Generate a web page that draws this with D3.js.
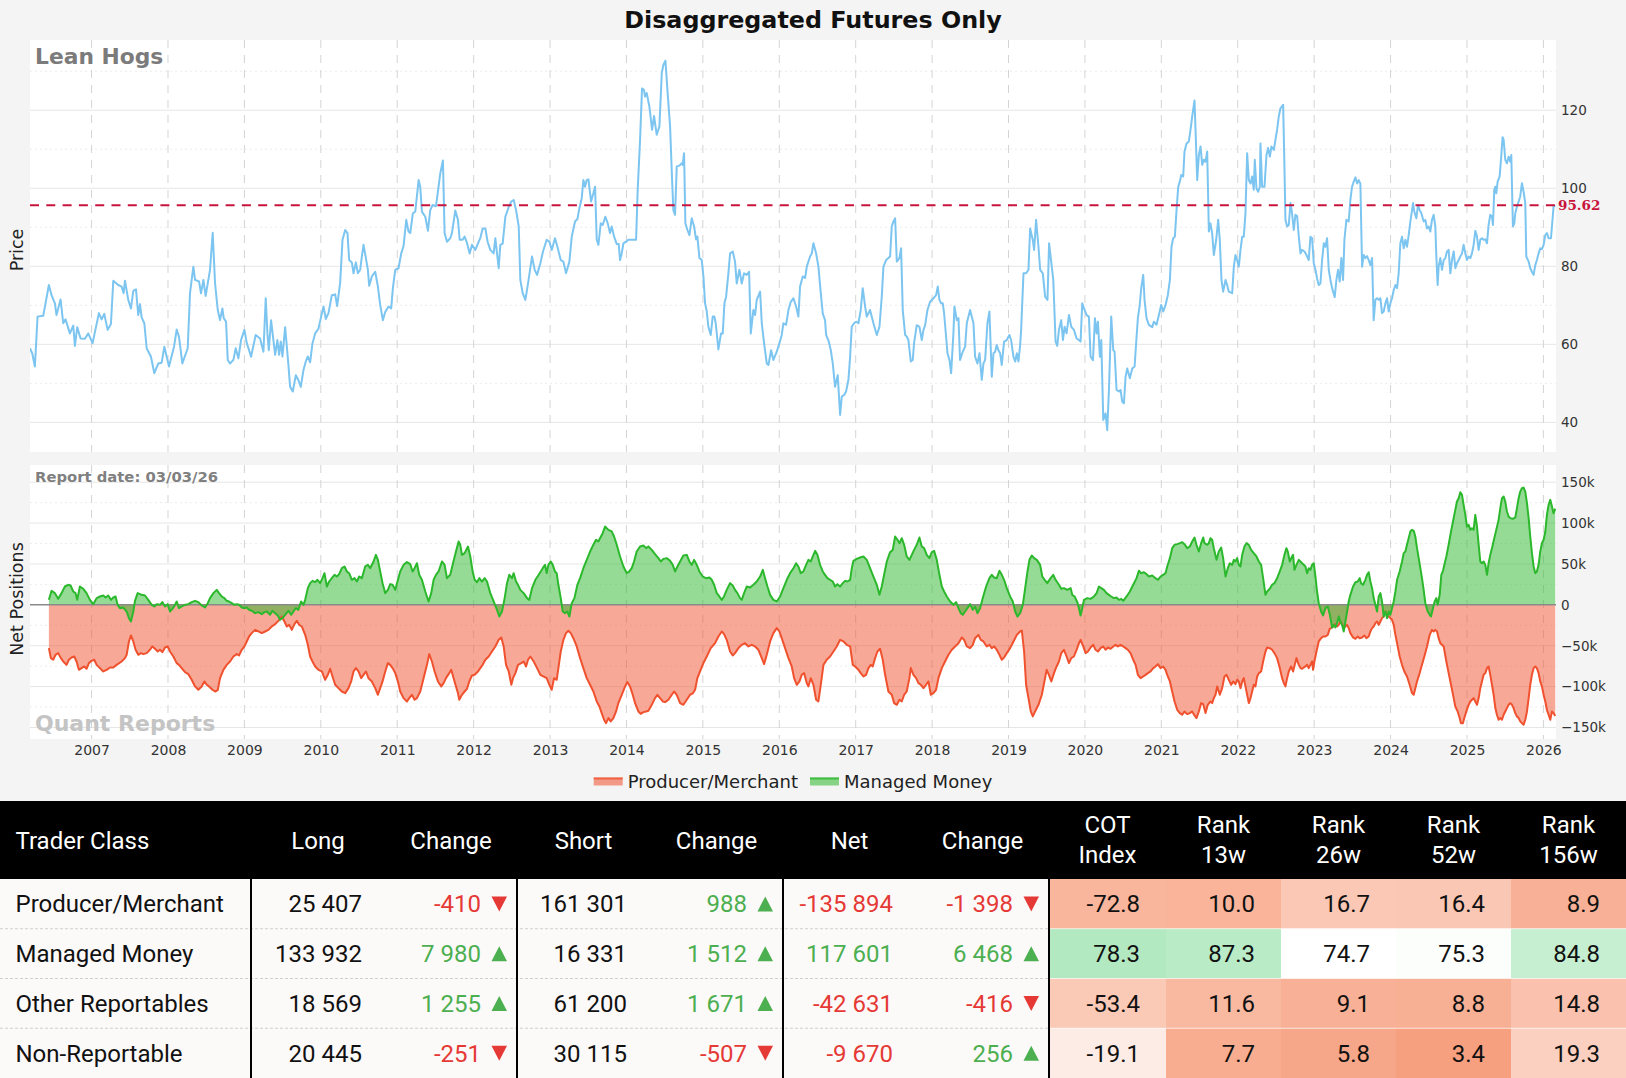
<!DOCTYPE html>
<html>
<head>
<meta charset="utf-8">
<script src="https://cdn.jsdelivr.net/npm/d3@7"></script>
<style>
html, body { margin: 0; padding: 0; background: #f4f4f4; }
svg { display: block; }
</style>
</head>
<body>
<svg id="chart" width="1626" height="1078"></svg>
<script>
// ---- data ----
var chartTitle = "Disaggregated Futures Only";
var marketName = "Lean Hogs";
var reportDate = "03/03/26";
var lastPrice = 95.62;

var yearTicks = [2007,2008,2009,2010,2011,2012,2013,2014,2015,2016,2017,2018,2019,2020,2021,2022,2023,2024,2025,2026];
var priceTicks = [40, 60, 80, 100, 120];
var priceMinor = [50, 70, 90, 110, 130];
var netTicks = [-150, -100, -50, 0, 50, 100, 150];   // thousands of contracts
var netMinor = [-125, -75, -25, 25, 75, 125];
var seriesNames = ["Producer/Merchant", "Managed Money"];

// [decimal year, price]
var price = [
[2006.192,59.0],[2006.223,57.7],[2006.258,54.3],[2006.293,67.1],[2006.367,67.3],[2006.441,75.2],[2006.476,72.6],[2006.520,70.5],
[2006.541,67.5],[2006.594,71.5],[2006.629,65.4],[2006.659,66.4],[2006.716,62.8],[2006.760,64.8],[2006.782,59.6],[2006.812,64.4],
[2006.856,61.5],[2006.913,61.4],[2006.956,62.8],[2007.013,60.3],[2007.096,68.0],[2007.131,66.4],[2007.166,67.8],[2007.210,63.7],
[2007.253,65.2],[2007.284,76.3],[2007.349,75.2],[2007.393,74.8],[2007.419,73.1],[2007.437,76.3],[2007.480,71.4],[2007.515,69.2],
[2007.546,73.7],[2007.581,74.1],[2007.611,67.5],[2007.633,70.3],[2007.655,66.9],[2007.690,65.4],[2007.721,59.0],[2007.777,56.8],
[2007.821,52.6],[2007.873,55.1],[2007.917,55.3],[2007.952,59.4],[2007.983,56.8],[2008.013,54.3],[2008.079,59.4],[2008.114,63.8],
[2008.144,61.9],[2008.188,55.1],[2008.258,59.0],[2008.288,73.1],[2008.332,79.9],[2008.354,76.5],[2008.406,76.1],[2008.432,73.1],
[2008.463,76.5],[2008.493,72.4],[2008.550,79.1],[2008.585,88.6],[2008.616,75.6],[2008.651,68.8],[2008.681,66.2],[2008.712,69.2],
[2008.729,66.7],[2008.760,65.8],[2008.782,56.0],[2008.812,55.1],[2008.856,56.0],[2008.886,59.0],[2008.921,56.4],[2008.956,61.1],
[2009.000,63.7],[2009.031,60.3],[2009.061,58.5],[2009.087,56.8],[2009.148,62.4],[2009.205,61.5],[2009.249,58.1],[2009.279,71.8],
[2009.301,62.8],[2009.319,58.5],[2009.349,66.2],[2009.402,57.3],[2009.432,61.1],[2009.454,57.3],[2009.476,60.7],[2009.498,56.9],
[2009.533,64.4],[2009.576,54.7],[2009.598,49.1],[2009.633,47.9],[2009.673,52.1],[2009.707,50.8],[2009.738,49.1],[2009.773,53.4],
[2009.803,55.6],[2009.830,56.9],[2009.860,55.4],[2009.891,60.3],[2009.926,62.8],[2009.969,64.0],[2010.004,67.1],[2010.035,69.7],
[2010.066,66.5],[2010.100,68.0],[2010.144,72.6],[2010.188,72.8],[2010.214,69.8],[2010.253,75.8],[2010.284,86.8],[2010.319,89.3],
[2010.349,88.5],[2010.371,81.6],[2010.406,81.0],[2010.428,78.2],[2010.459,81.0],[2010.485,78.2],[2010.515,79.1],[2010.537,82.5],
[2010.559,85.5],[2010.590,82.1],[2010.616,79.1],[2010.633,75.0],[2010.668,77.4],[2010.712,78.6],[2010.747,74.8],[2010.777,70.1],
[2010.812,66.2],[2010.843,68.3],[2010.886,69.7],[2010.921,69.2],[2010.943,74.4],[2010.974,79.1],[2011.017,79.5],[2011.052,83.3],
[2011.083,85.2],[2011.118,91.9],[2011.148,88.9],[2011.170,88.5],[2011.205,93.6],[2011.236,94.0],[2011.280,102.1],[2011.301,100.4],
[2011.323,94.0],[2011.367,92.7],[2011.402,89.1],[2011.432,94.4],[2011.463,95.7],[2011.507,95.4],[2011.541,100.4],[2011.563,103.8],
[2011.598,107.1],[2011.620,88.5],[2011.651,86.3],[2011.694,87.2],[2011.716,88.5],[2011.760,94.3],[2011.795,91.9],[2011.817,86.8],
[2011.856,86.8],[2011.882,87.6],[2011.913,86.0],[2011.948,83.3],[2011.978,85.5],[2012.022,84.2],[2012.057,85.9],[2012.087,87.2],
[2012.118,89.7],[2012.153,89.7],[2012.183,86.3],[2012.218,84.2],[2012.262,83.3],[2012.284,87.2],[2012.306,83.3],[2012.328,79.5],
[2012.349,85.5],[2012.380,85.8],[2012.415,92.7],[2012.459,95.2],[2012.493,96.6],[2012.524,97.0],[2012.555,94.4],[2012.590,90.2],
[2012.611,76.5],[2012.642,73.1],[2012.677,71.4],[2012.712,75.6],[2012.764,82.5],[2012.799,79.1],[2012.830,77.8],[2012.873,80.8],
[2012.908,83.8],[2012.956,86.8],[2012.991,86.3],[2013.022,84.2],[2013.065,87.2],[2013.096,85.0],[2013.140,81.6],[2013.175,81.2],
[2013.209,78.2],[2013.253,81.2],[2013.284,87.6],[2013.327,91.5],[2013.358,92.1],[2013.384,94.9],[2013.414,97.4],[2013.436,102.1],
[2013.458,100.4],[2013.480,102.1],[2013.502,102.3],[2013.524,98.7],[2013.537,96.6],[2013.567,98.7],[2013.589,100.4],[2013.611,86.8],
[2013.633,85.5],[2013.663,91.0],[2013.689,90.6],[2013.724,92.7],[2013.755,91.0],[2013.785,88.5],[2013.807,90.2],[2013.838,87.6],
[2013.873,85.7],[2013.899,85.7],[2013.916,81.6],[2013.938,83.3],[2013.960,85.9],[2013.995,86.3],[2014.025,86.8],[2014.091,86.8],
[2014.126,86.8],[2014.147,99.6],[2014.178,112.4],[2014.204,125.6],[2014.230,125.2],[2014.243,123.5],[2014.265,124.4],[2014.300,120.9],
[2014.335,115.0],[2014.361,118.5],[2014.396,113.7],[2014.431,115.8],[2014.462,129.5],[2014.483,131.6],[2014.510,132.7],[2014.536,125.2],
[2014.571,115.8],[2014.597,102.1],[2014.614,94.4],[2014.636,93.2],[2014.658,105.6],[2014.693,105.8],[2014.723,106.4],[2014.736,106.0],
[2014.754,109.0],[2014.771,91.0],[2014.798,89.3],[2014.824,88.0],[2014.854,92.3],[2014.885,90.2],[2014.911,86.9],[2014.928,87.6],
[2014.955,82.1],[2014.985,81.6],[2015.007,77.4],[2015.029,70.5],[2015.051,68.4],[2015.072,64.5],[2015.103,62.4],[2015.129,67.1],
[2015.151,67.1],[2015.168,65.4],[2015.203,58.7],[2015.238,62.8],[2015.260,62.8],[2015.282,70.5],[2015.304,72.2],[2015.334,78.2],
[2015.356,83.3],[2015.391,83.8],[2015.421,81.2],[2015.443,75.6],[2015.478,79.1],[2015.509,75.6],[2015.539,78.2],[2015.574,77.8],
[2015.605,78.6],[2015.627,62.8],[2015.661,68.8],[2015.683,67.5],[2015.705,71.4],[2015.749,73.5],[2015.771,65.4],[2015.801,60.3],
[2015.836,55.1],[2015.858,54.7],[2015.893,58.5],[2015.923,56.0],[2015.967,58.1],[2016.002,60.3],[2016.032,62.4],[2016.054,65.4],
[2016.089,65.0],[2016.120,68.8],[2016.150,70.9],[2016.185,71.8],[2016.220,69.7],[2016.250,67.1],[2016.272,74.8],[2016.307,77.4],
[2016.338,77.0],[2016.360,79.9],[2016.403,82.5],[2016.425,83.3],[2016.447,85.9],[2016.482,83.3],[2016.512,79.9],[2016.543,73.1],
[2016.569,67.9],[2016.599,66.2],[2016.613,62.4],[2016.648,60.7],[2016.674,58.5],[2016.700,55.1],[2016.730,49.1],[2016.765,52.1],
[2016.796,41.9],[2016.818,46.6],[2016.848,47.0],[2016.874,47.9],[2016.905,50.9],[2016.927,56.8],[2016.948,64.5],[2016.979,65.4],
[2017.005,65.8],[2017.036,65.4],[2017.066,68.8],[2017.092,74.4],[2017.123,69.7],[2017.145,67.1],[2017.188,68.8],[2017.232,65.4],
[2017.276,62.4],[2017.311,64.5],[2017.341,72.2],[2017.363,79.9],[2017.398,81.6],[2017.428,82.1],[2017.450,82.5],[2017.472,90.2],
[2017.494,91.5],[2017.516,92.3],[2017.538,81.2],[2017.572,82.1],[2017.594,84.6],[2017.616,68.8],[2017.647,62.4],[2017.668,62.0],
[2017.690,61.1],[2017.721,55.6],[2017.747,56.0],[2017.764,60.3],[2017.799,64.9],[2017.834,64.5],[2017.865,61.1],[2017.887,63.7],
[2017.909,64.9],[2017.939,68.8],[2017.974,70.9],[2018.017,71.8],[2018.052,72.6],[2018.074,74.8],[2018.096,71.4],[2018.118,70.5],
[2018.140,70.5],[2018.157,67.9],[2018.183,62.0],[2018.201,57.7],[2018.227,56.0],[2018.249,52.6],[2018.279,62.8],[2018.292,69.7],
[2018.323,66.2],[2018.345,66.7],[2018.366,56.0],[2018.401,58.1],[2018.432,59.4],[2018.454,65.4],[2018.497,68.8],[2018.541,65.4],
[2018.563,56.8],[2018.593,55.1],[2018.620,57.7],[2018.650,50.9],[2018.672,55.1],[2018.694,56.0],[2018.724,65.4],[2018.750,68.4],
[2018.781,51.7],[2018.803,57.7],[2018.825,58.1],[2018.846,59.8],[2018.868,58.5],[2018.890,57.7],[2018.912,54.7],[2018.942,60.7],
[2018.977,61.1],[2019.012,62.4],[2019.034,61.1],[2019.065,56.8],[2019.087,55.6],[2019.109,57.7],[2019.130,55.6],[2019.152,59.8],
[2019.165,63.7],[2019.196,78.2],[2019.230,78.2],[2019.261,79.1],[2019.283,89.7],[2019.318,86.7],[2019.335,84.2],[2019.361,91.9],
[2019.392,85.0],[2019.414,79.1],[2019.449,78.2],[2019.479,72.2],[2019.510,71.4],[2019.531,85.9],[2019.586,76.5],[2019.616,60.7],
[2019.638,59.6],[2019.660,63.7],[2019.690,66.2],[2019.712,61.1],[2019.734,64.5],[2019.760,62.8],[2019.791,67.5],[2019.821,64.5],
[2019.856,63.7],[2019.891,61.5],[2019.922,61.1],[2019.943,60.7],[2019.965,70.5],[2019.996,68.8],[2020.022,67.5],[2020.052,67.1],
[2020.074,56.8],[2020.105,55.9],[2020.131,66.7],[2020.153,62.8],[2020.170,65.8],[2020.196,56.8],[2020.214,61.1],[2020.240,40.6],
[2020.270,42.3],[2020.292,38.0],[2020.314,48.3],[2020.344,67.1],[2020.371,58.5],[2020.388,58.1],[2020.414,48.3],[2020.445,47.9],
[2020.466,48.3],[2020.488,45.3],[2020.510,44.9],[2020.532,51.7],[2020.554,53.8],[2020.588,51.3],[2020.619,53.8],[2020.650,54.3],
[2020.676,62.0],[2020.693,66.7],[2020.715,69.7],[2020.737,74.4],[2020.763,77.8],[2020.780,71.4],[2020.806,66.7],[2020.837,65.0],
[2020.881,64.4],[2020.902,65.8],[2020.937,65.0],[2020.968,67.5],[2020.998,70.1],[2021.024,68.4],[2021.055,70.1],[2021.085,72.6],
[2021.112,76.5],[2021.133,85.0],[2021.155,87.2],[2021.177,87.6],[2021.199,94.4],[2021.221,100.4],[2021.242,101.7],[2021.260,103.4],
[2021.286,103.0],[2021.303,109.4],[2021.330,111.5],[2021.360,112.0],[2021.382,115.0],[2021.404,118.4],[2021.434,122.5],[2021.452,112.4],
[2021.469,102.1],[2021.491,108.5],[2021.513,110.7],[2021.535,106.0],[2021.556,107.3],[2021.578,106.8],[2021.600,109.4],[2021.622,88.9],
[2021.643,91.0],[2021.665,88.5],[2021.687,82.9],[2021.718,86.8],[2021.744,91.9],[2021.765,86.8],[2021.787,76.5],[2021.809,73.5],
[2021.840,76.5],[2021.861,75.2],[2021.883,73.5],[2021.927,73.1],[2021.949,79.9],[2021.970,82.9],[2021.992,81.6],[2022.014,79.9],
[2022.036,84.2],[2022.058,87.6],[2022.079,87.6],[2022.101,93.6],[2022.123,109.0],[2022.145,102.1],[2022.167,101.2],[2022.188,103.0],
[2022.210,99.6],[2022.223,107.3],[2022.245,100.0],[2022.267,99.1],[2022.289,100.4],[2022.297,111.5],[2022.319,100.4],[2022.350,100.4],
[2022.376,108.5],[2022.398,110.3],[2022.420,108.1],[2022.441,110.7],[2022.472,109.8],[2022.493,112.4],[2022.515,115.0],[2022.537,118.4],
[2022.559,120.5],[2022.594,121.4],[2022.611,105.6],[2022.624,91.9],[2022.646,90.2],[2022.668,90.6],[2022.690,96.2],[2022.711,93.6],
[2022.733,89.3],[2022.755,93.2],[2022.777,92.9],[2022.799,87.6],[2022.821,83.3],[2022.842,84.2],[2022.873,83.8],[2022.899,82.9],
[2022.929,81.6],[2022.951,87.6],[2022.973,87.2],[2022.995,80.8],[2023.017,79.1],[2023.038,76.9],[2023.060,75.2],[2023.082,75.6],
[2023.104,81.6],[2023.126,85.9],[2023.147,85.0],[2023.169,87.2],[2023.191,79.1],[2023.213,76.5],[2023.235,74.4],[2023.269,72.1],
[2023.291,76.5],[2023.313,79.1],[2023.335,76.1],[2023.356,82.1],[2023.378,76.5],[2023.396,86.8],[2023.422,91.9],[2023.452,91.5],
[2023.474,97.0],[2023.496,100.4],[2023.518,101.7],[2023.540,102.8],[2023.562,101.2],[2023.583,102.1],[2023.605,101.2],[2023.627,79.9],
[2023.649,82.9],[2023.670,82.1],[2023.692,82.6],[2023.714,81.6],[2023.736,80.3],[2023.758,82.1],[2023.779,66.2],[2023.801,71.4],
[2023.823,71.8],[2023.845,71.4],[2023.867,71.8],[2023.888,68.0],[2023.910,68.4],[2023.932,70.5],[2023.954,71.8],[2023.976,68.4],
[2023.997,70.5],[2024.019,71.8],[2024.041,73.9],[2024.063,75.2],[2024.085,74.4],[2024.106,78.2],[2024.128,85.9],[2024.150,87.6],
[2024.172,84.6],[2024.194,86.8],[2024.215,85.0],[2024.237,88.0],[2024.259,91.5],[2024.281,94.4],[2024.294,96.2],[2024.311,94.0],
[2024.337,92.3],[2024.359,95.7],[2024.381,94.4],[2024.403,93.6],[2024.433,91.5],[2024.455,91.9],[2024.477,89.7],[2024.499,90.2],
[2024.520,88.9],[2024.542,91.9],[2024.564,93.2],[2024.586,90.2],[2024.599,82.5],[2024.616,75.2],[2024.629,79.9],[2024.651,82.1],
[2024.673,79.1],[2024.695,81.6],[2024.717,82.1],[2024.738,83.8],[2024.760,84.2],[2024.782,78.2],[2024.804,81.6],[2024.826,83.8],
[2024.848,79.5],[2024.869,80.8],[2024.891,81.6],[2024.913,82.5],[2024.935,83.3],[2024.956,85.5],[2024.978,83.3],[2025.000,81.6],
[2025.022,82.5],[2025.044,82.1],[2025.065,83.3],[2025.087,85.5],[2025.109,89.1],[2025.131,87.6],[2025.153,84.2],[2025.174,86.8],
[2025.196,87.2],[2025.218,86.8],[2025.240,86.9],[2025.262,85.9],[2025.283,90.6],[2025.305,93.2],[2025.327,92.7],[2025.340,90.6],
[2025.357,99.6],[2025.370,100.4],[2025.384,98.7],[2025.401,101.7],[2025.427,103.0],[2025.445,107.3],[2025.466,113.1],[2025.480,112.4],
[2025.501,107.3],[2025.523,106.4],[2025.545,108.1],[2025.567,106.8],[2025.580,108.5],[2025.601,90.2],[2025.619,91.0],[2025.632,93.6],
[2025.654,95.3],[2025.676,96.6],[2025.697,97.9],[2025.719,101.3],[2025.741,99.1],[2025.763,96.2],[2025.776,82.5],[2025.807,81.2],
[2025.828,79.5],[2025.850,78.6],[2025.872,77.8],[2025.894,80.3],[2025.915,81.6],[2025.937,83.3],[2025.959,84.6],[2025.981,84.4],
[2026.003,85.5],[2026.025,88.0],[2026.046,88.5],[2026.068,87.2],[2026.099,87.2],[2026.112,90.2],[2026.133,95.3],[2026.155,95.62]
];

// [decimal year, net position in thousands] - Producer/Merchant
var producerNet = [
[2006.441,-53.0],[2006.467,-65.2],[2006.498,-67.2],[2006.528,-61.1],[2006.563,-59.1],[2006.598,-65.2],[2006.629,-69.3],[2006.672,-73.4],
[2006.703,-67.2],[2006.738,-64.4],[2006.773,-63.2],[2006.803,-69.3],[2006.834,-79.5],[2006.869,-77.4],[2006.904,-75.4],[2006.934,-78.2],
[2006.965,-71.3],[2007.000,-68.5],[2007.035,-67.2],[2007.066,-73.4],[2007.109,-77.4],[2007.153,-81.5],[2007.197,-79.5],[2007.240,-76.6],
[2007.284,-76.6],[2007.328,-73.4],[2007.393,-69.3],[2007.437,-65.2],[2007.459,-61.1],[2007.489,-44.8],[2007.515,-37.5],[2007.546,-44.8],
[2007.576,-55.0],[2007.611,-61.1],[2007.646,-59.1],[2007.677,-60.3],[2007.721,-59.1],[2007.764,-55.0],[2007.795,-50.9],[2007.830,-53.8],
[2007.865,-57.1],[2007.895,-55.0],[2007.926,-57.9],[2007.961,-52.2],[2007.996,-50.9],[2008.026,-57.1],[2008.070,-63.2],[2008.114,-71.3],
[2008.144,-73.4],[2008.179,-77.4],[2008.223,-82.3],[2008.266,-84.8],[2008.310,-91.7],[2008.354,-99.8],[2008.397,-103.9],[2008.441,-99.8],
[2008.476,-93.7],[2008.507,-97.8],[2008.537,-99.8],[2008.581,-103.9],[2008.616,-106.0],[2008.651,-104.3],[2008.681,-89.7],[2008.725,-79.5],
[2008.769,-73.4],[2008.812,-69.3],[2008.856,-63.2],[2008.900,-60.3],[2008.930,-61.9],[2008.965,-55.0],[2009.000,-50.9],[2009.031,-44.8],
[2009.061,-38.7],[2009.096,-34.6],[2009.140,-30.6],[2009.183,-32.6],[2009.227,-34.6],[2009.271,-32.6],[2009.314,-30.6],[2009.358,-26.5],
[2009.402,-23.6],[2009.445,-19.6],[2009.489,-14.3],[2009.524,-20.4],[2009.555,-26.5],[2009.585,-24.5],[2009.620,-30.6],[2009.655,-23.6],
[2009.686,-19.6],[2009.716,-24.5],[2009.751,-26.5],[2009.795,-36.7],[2009.830,-48.9],[2009.860,-63.2],[2009.891,-69.3],[2009.926,-75.4],
[2009.969,-79.5],[2010.013,-81.5],[2010.057,-91.7],[2010.092,-85.6],[2010.122,-78.2],[2010.153,-87.6],[2010.188,-97.8],[2010.231,-101.9],
[2010.275,-106.0],[2010.319,-108.0],[2010.362,-101.9],[2010.397,-93.7],[2010.428,-81.5],[2010.459,-77.4],[2010.493,-81.5],[2010.528,-89.7],
[2010.559,-85.6],[2010.590,-81.5],[2010.624,-89.7],[2010.668,-93.7],[2010.712,-101.9],[2010.747,-110.0],[2010.777,-101.9],[2010.808,-93.7],
[2010.843,-81.5],[2010.878,-71.3],[2010.908,-73.4],[2010.939,-77.4],[2010.974,-83.5],[2011.009,-93.7],[2011.039,-106.0],[2011.083,-114.1],
[2011.127,-118.2],[2011.157,-114.1],[2011.192,-110.0],[2011.227,-116.1],[2011.258,-114.1],[2011.301,-106.0],[2011.345,-89.7],[2011.389,-73.4],
[2011.419,-60.3],[2011.454,-69.3],[2011.489,-81.5],[2011.533,-93.7],[2011.576,-99.8],[2011.607,-95.8],[2011.638,-89.7],[2011.672,-84.8],
[2011.707,-79.5],[2011.738,-89.7],[2011.769,-99.8],[2011.795,-108.0],[2011.812,-116.1],[2011.847,-110.0],[2011.882,-106.0],[2011.913,-102.7],
[2011.943,-93.7],[2011.978,-86.4],[2012.013,-85.6],[2012.057,-81.5],[2012.087,-77.4],[2012.118,-73.4],[2012.153,-67.2],[2012.197,-63.2],
[2012.240,-57.1],[2012.284,-50.9],[2012.328,-42.8],[2012.362,-39.9],[2012.393,-50.9],[2012.424,-73.4],[2012.459,-81.5],[2012.493,-97.8],
[2012.515,-89.7],[2012.546,-83.5],[2012.581,-73.4],[2012.624,-71.3],[2012.655,-69.3],[2012.686,-75.4],[2012.712,-67.2],[2012.742,-63.2],
[2012.786,-69.3],[2012.830,-77.4],[2012.873,-85.6],[2012.956,-89.7],[2012.991,-97.8],[2013.022,-103.9],[2013.052,-89.7],[2013.087,-91.7],
[2013.109,-77.4],[2013.140,-57.1],[2013.175,-42.8],[2013.209,-34.6],[2013.240,-31.8],[2013.271,-34.6],[2013.305,-40.8],[2013.349,-50.9],
[2013.393,-65.2],[2013.436,-77.4],[2013.480,-89.7],[2013.524,-97.8],[2013.567,-106.0],[2013.611,-118.2],[2013.646,-124.3],[2013.676,-132.4],
[2013.707,-140.6],[2013.733,-144.7],[2013.764,-138.5],[2013.794,-142.6],[2013.829,-138.5],[2013.864,-130.4],[2013.894,-120.2],[2013.938,-110.0],
[2013.982,-99.8],[2014.012,-94.5],[2014.047,-99.8],[2014.082,-110.0],[2014.113,-120.2],[2014.156,-130.4],[2014.187,-133.3],[2014.222,-131.2],
[2014.257,-130.4],[2014.287,-129.6],[2014.331,-122.3],[2014.374,-114.1],[2014.405,-110.0],[2014.440,-114.1],[2014.475,-118.2],[2014.505,-119.0],
[2014.549,-116.1],[2014.593,-110.0],[2014.623,-106.0],[2014.658,-110.0],[2014.702,-120.2],[2014.745,-122.3],[2014.789,-116.1],[2014.832,-110.0],
[2014.867,-108.4],[2014.898,-103.9],[2014.928,-89.7],[2014.963,-81.5],[2015.007,-71.3],[2015.051,-63.2],[2015.103,-53.0],[2015.160,-46.9],
[2015.203,-38.7],[2015.247,-32.6],[2015.277,-35.9],[2015.312,-42.8],[2015.356,-57.1],[2015.391,-61.9],[2015.421,-59.1],[2015.465,-53.0],
[2015.509,-48.9],[2015.552,-46.9],[2015.596,-50.9],[2015.640,-48.9],[2015.683,-50.9],[2015.727,-55.0],[2015.771,-65.2],[2015.801,-72.5],
[2015.836,-61.1],[2015.880,-44.8],[2015.923,-34.6],[2015.967,-28.5],[2016.002,-32.6],[2016.032,-40.8],[2016.076,-53.0],[2016.120,-65.2],
[2016.163,-75.4],[2016.194,-89.7],[2016.229,-97.8],[2016.264,-93.7],[2016.294,-85.6],[2016.325,-83.5],[2016.360,-95.8],[2016.381,-99.8],
[2016.412,-89.7],[2016.447,-97.8],[2016.482,-116.1],[2016.512,-118.2],[2016.543,-97.8],[2016.578,-73.4],[2016.621,-67.2],[2016.665,-63.2],
[2016.709,-57.1],[2016.752,-50.9],[2016.796,-42.8],[2016.840,-44.8],[2016.883,-48.9],[2016.927,-50.9],[2016.962,-73.4],[2016.992,-75.4],
[2017.036,-79.5],[2017.066,-83.5],[2017.101,-87.6],[2017.136,-85.6],[2017.167,-77.4],[2017.197,-73.4],[2017.223,-75.4],[2017.254,-65.2],
[2017.284,-57.1],[2017.319,-53.8],[2017.354,-67.2],[2017.385,-85.6],[2017.428,-106.0],[2017.472,-110.0],[2017.503,-120.2],[2017.538,-122.3],
[2017.573,-116.1],[2017.603,-118.2],[2017.634,-110.0],[2017.668,-106.0],[2017.703,-89.7],[2017.721,-77.4],[2017.756,-85.6],[2017.791,-89.7],
[2017.821,-95.8],[2017.852,-97.8],[2017.887,-101.9],[2017.921,-97.8],[2017.952,-93.7],[2017.983,-110.0],[2018.017,-108.0],[2018.052,-103.9],
[2018.083,-89.7],[2018.127,-77.4],[2018.170,-69.3],[2018.214,-61.1],[2018.258,-55.0],[2018.301,-50.9],[2018.345,-46.9],[2018.388,-39.9],
[2018.419,-42.8],[2018.454,-50.9],[2018.497,-53.0],[2018.532,-48.9],[2018.563,-40.8],[2018.606,-36.7],[2018.637,-42.8],[2018.672,-44.8],
[2018.715,-50.9],[2018.751,-48.9],[2018.781,-53.0],[2018.812,-50.9],[2018.846,-55.0],[2018.881,-61.1],[2018.912,-67.2],[2018.942,-64.4],
[2018.977,-59.1],[2019.021,-53.0],[2019.065,-44.8],[2019.109,-36.7],[2019.152,-32.6],[2019.174,-31.4],[2019.204,-57.1],[2019.230,-97.8],
[2019.261,-114.1],[2019.291,-130.4],[2019.318,-136.5],[2019.348,-130.4],[2019.392,-122.3],[2019.436,-110.0],[2019.499,-79.5],[2019.529,-85.6],
[2019.560,-93.7],[2019.595,-83.5],[2019.629,-75.4],[2019.660,-69.3],[2019.690,-59.1],[2019.725,-55.0],[2019.760,-63.2],[2019.791,-71.3],
[2019.821,-65.2],[2019.856,-63.2],[2019.891,-55.0],[2019.922,-46.9],[2019.943,-42.8],[2019.978,-50.9],[2020.009,-59.1],[2020.039,-57.1],
[2020.074,-52.2],[2020.109,-48.9],[2020.139,-55.0],[2020.170,-57.1],[2020.205,-53.0],[2020.240,-50.9],[2020.270,-55.0],[2020.301,-52.2],
[2020.336,-53.8],[2020.371,-50.9],[2020.401,-48.9],[2020.432,-50.9],[2020.466,-48.9],[2020.501,-50.9],[2020.532,-53.0],[2020.562,-55.0],
[2020.597,-59.1],[2020.632,-67.2],[2020.663,-73.4],[2020.693,-85.6],[2020.728,-89.7],[2020.763,-87.6],[2020.793,-85.6],[2020.824,-83.5],
[2020.859,-81.5],[2020.894,-77.4],[2020.924,-75.4],[2020.955,-72.5],[2020.990,-77.4],[2021.024,-75.4],[2021.055,-79.5],[2021.077,-85.6],
[2021.112,-93.7],[2021.142,-106.0],[2021.173,-118.2],[2021.208,-128.4],[2021.242,-132.4],[2021.273,-134.5],[2021.303,-130.4],[2021.338,-133.7],
[2021.373,-132.4],[2021.404,-130.4],[2021.434,-135.3],[2021.460,-138.5],[2021.491,-130.4],[2021.521,-120.2],[2021.548,-121.4],[2021.578,-132.4],
[2021.608,-122.3],[2021.643,-118.2],[2021.665,-120.2],[2021.687,-114.1],[2021.709,-110.0],[2021.731,-99.8],[2021.765,-110.0],[2021.796,-101.9],
[2021.826,-87.6],[2021.853,-85.6],[2021.883,-91.7],[2021.914,-97.8],[2021.940,-93.7],[2021.970,-97.0],[2021.992,-91.7],[2022.014,-93.7],
[2022.036,-101.9],[2022.058,-93.7],[2022.079,-89.7],[2022.101,-99.8],[2022.123,-110.0],[2022.145,-120.2],[2022.167,-114.1],[2022.188,-106.0],
[2022.210,-97.8],[2022.232,-99.8],[2022.254,-87.6],[2022.276,-83.5],[2022.306,-81.5],[2022.332,-69.3],[2022.363,-57.1],[2022.385,-52.2],
[2022.419,-53.0],[2022.450,-55.0],[2022.480,-59.1],[2022.515,-65.2],[2022.550,-77.4],[2022.581,-89.7],[2022.603,-95.8],[2022.624,-99.8],
[2022.646,-89.7],[2022.668,-81.5],[2022.698,-75.4],[2022.724,-81.5],[2022.746,-73.4],[2022.768,-65.2],[2022.799,-73.4],[2022.821,-77.4],
[2022.842,-78.2],[2022.864,-76.6],[2022.886,-75.4],[2022.908,-73.4],[2022.929,-77.4],[2022.951,-73.4],[2022.973,-69.3],[2022.986,-79.5],
[2023.003,-69.3],[2023.030,-57.1],[2023.060,-44.8],[2023.091,-40.8],[2023.117,-38.7],[2023.147,-38.7],[2023.178,-36.7],[2023.204,-29.3],
[2023.235,-27.7],[2023.256,-26.5],[2023.278,-23.6],[2023.300,-26.5],[2023.322,-24.5],[2023.343,-20.4],[2023.365,-23.6],[2023.387,-28.5],
[2023.409,-26.5],[2023.431,-24.5],[2023.452,-28.5],[2023.474,-34.6],[2023.509,-39.9],[2023.540,-41.6],[2023.570,-38.7],[2023.596,-40.8],
[2023.627,-39.9],[2023.657,-37.5],[2023.683,-40.8],[2023.714,-38.7],[2023.736,-32.6],[2023.758,-28.5],[2023.779,-26.5],[2023.801,-22.4],
[2023.823,-20.4],[2023.845,-24.5],[2023.867,-20.4],[2023.888,-16.3],[2023.910,-14.3],[2023.932,-8.2],[2023.954,-12.2],[2023.976,-14.3],
[2023.997,-16.3],[2024.019,-18.3],[2024.041,-24.5],[2024.063,-36.7],[2024.085,-46.9],[2024.119,-63.2],[2024.150,-73.4],[2024.180,-81.5],
[2024.215,-87.6],[2024.250,-97.8],[2024.281,-108.0],[2024.303,-110.0],[2024.324,-101.9],[2024.346,-93.7],[2024.381,-83.5],[2024.411,-73.4],
[2024.442,-63.2],[2024.477,-50.9],[2024.512,-36.7],[2024.542,-30.6],[2024.564,-32.6],[2024.586,-30.6],[2024.608,-32.6],[2024.629,-40.8],
[2024.651,-46.9],[2024.673,-48.9],[2024.695,-50.9],[2024.730,-69.3],[2024.760,-83.5],[2024.791,-97.8],[2024.826,-114.1],[2024.847,-124.3],
[2024.878,-130.4],[2024.904,-138.5],[2024.921,-144.7],[2024.947,-144.7],[2024.965,-138.5],[2024.991,-130.4],[2025.022,-122.3],[2025.044,-118.2],
[2025.065,-116.1],[2025.087,-114.1],[2025.109,-118.2],[2025.131,-122.3],[2025.153,-114.1],[2025.174,-101.9],[2025.196,-93.7],[2025.218,-85.6],
[2025.240,-83.5],[2025.262,-77.4],[2025.283,-75.4],[2025.305,-85.6],[2025.327,-97.8],[2025.349,-110.0],[2025.371,-126.3],[2025.392,-134.5],
[2025.414,-140.6],[2025.436,-138.5],[2025.458,-140.6],[2025.480,-134.5],[2025.501,-130.4],[2025.523,-126.3],[2025.545,-122.3],[2025.567,-120.2],
[2025.589,-122.3],[2025.610,-126.3],[2025.632,-132.4],[2025.654,-136.5],[2025.676,-138.5],[2025.697,-142.6],[2025.719,-144.7],[2025.741,-146.7],
[2025.763,-140.6],[2025.785,-130.4],[2025.807,-114.1],[2025.828,-97.8],[2025.850,-85.6],[2025.872,-77.4],[2025.894,-75.4],[2025.915,-77.4],
[2025.937,-83.5],[2025.959,-93.7],[2025.981,-99.8],[2026.003,-110.0],[2026.025,-118.2],[2026.046,-128.4],[2026.068,-134.5],[2026.090,-140.6],
[2026.112,-130.4],[2026.133,-132.4],[2026.155,-135.9]
];

// [decimal year, net position in thousands] - Managed Money
var managedNet = [
[2006.441,6.1],[2006.476,17.1],[2006.520,14.3],[2006.563,7.3],[2006.607,14.3],[2006.651,22.4],[2006.694,24.5],[2006.725,23.6],
[2006.760,16.3],[2006.790,14.3],[2006.812,6.1],[2006.847,22.4],[2006.891,19.6],[2006.934,14.3],[2006.978,6.1],[2007.022,0.8],
[2007.066,8.2],[2007.109,10.2],[2007.153,11.4],[2007.183,9.0],[2007.218,11.4],[2007.253,6.1],[2007.284,9.0],[2007.314,10.2],
[2007.341,0.0],[2007.371,-4.1],[2007.415,-3.3],[2007.459,-8.2],[2007.489,-16.3],[2007.515,-20.4],[2007.546,-8.2],[2007.568,4.9],
[2007.603,14.3],[2007.655,12.2],[2007.699,11.4],[2007.742,6.1],[2007.786,0.0],[2007.821,-2.0],[2007.852,0.8],[2007.895,0.0],
[2007.926,3.3],[2007.961,-2.0],[2007.996,0.8],[2008.026,-8.2],[2008.057,-4.9],[2008.092,0.0],[2008.114,4.1],[2008.144,-4.1],
[2008.179,-2.0],[2008.223,0.0],[2008.266,0.8],[2008.310,3.3],[2008.354,4.9],[2008.397,3.3],[2008.441,-0.8],[2008.485,-3.3],
[2008.520,2.0],[2008.550,8.2],[2008.594,14.3],[2008.638,18.3],[2008.668,14.3],[2008.703,10.2],[2008.738,8.2],[2008.769,4.9],
[2008.799,4.1],[2008.834,2.0],[2008.869,0.0],[2008.900,0.8],[2008.930,0.0],[2008.965,-3.3],[2009.000,-4.1],[2009.031,-3.3],
[2009.061,-6.1],[2009.096,-7.3],[2009.140,-10.2],[2009.183,-8.9],[2009.227,-11.4],[2009.262,-8.9],[2009.293,-8.2],[2009.336,-12.2],
[2009.367,-7.3],[2009.402,-10.2],[2009.437,-13.0],[2009.467,-18.3],[2009.498,-16.3],[2009.533,-12.2],[2009.576,-7.3],[2009.611,-12.2],
[2009.642,-8.2],[2009.672,-4.1],[2009.707,-6.1],[2009.742,4.1],[2009.773,0.0],[2009.795,6.1],[2009.830,20.4],[2009.860,26.5],
[2009.891,29.3],[2009.926,27.7],[2009.956,30.6],[2009.991,26.5],[2010.022,32.6],[2010.048,38.7],[2010.079,22.4],[2010.109,28.5],
[2010.144,32.6],[2010.179,36.7],[2010.210,34.6],[2010.240,37.5],[2010.275,44.8],[2010.310,46.9],[2010.341,40.8],[2010.371,38.7],
[2010.406,30.6],[2010.441,32.6],[2010.472,28.5],[2010.502,34.6],[2010.537,32.6],[2010.581,46.9],[2010.616,48.9],[2010.646,44.8],
[2010.690,53.0],[2010.721,61.1],[2010.747,55.0],[2010.777,40.8],[2010.808,26.5],[2010.843,14.3],[2010.878,18.3],[2010.908,25.3],
[2010.939,24.5],[2010.974,18.3],[2011.009,30.6],[2011.039,40.8],[2011.083,48.9],[2011.127,52.2],[2011.170,49.7],[2011.201,40.8],
[2011.227,44.8],[2011.258,50.9],[2011.288,36.7],[2011.323,30.6],[2011.367,16.3],[2011.410,4.1],[2011.445,14.3],[2011.476,30.6],
[2011.507,36.7],[2011.541,40.8],[2011.585,53.0],[2011.620,48.9],[2011.651,32.6],[2011.694,36.7],[2011.725,48.9],[2011.769,65.2],
[2011.803,77.4],[2011.825,73.4],[2011.847,61.1],[2011.882,63.2],[2011.926,71.3],[2011.956,59.1],[2011.987,40.8],[2012.013,30.6],
[2012.044,27.7],[2012.074,32.6],[2012.109,28.5],[2012.144,32.6],[2012.175,28.5],[2012.218,14.3],[2012.262,4.1],[2012.306,-6.1],
[2012.336,-14.3],[2012.371,-8.2],[2012.406,8.2],[2012.437,26.5],[2012.467,36.7],[2012.502,32.6],[2012.524,38.7],[2012.555,28.5],
[2012.581,24.5],[2012.611,18.3],[2012.655,14.3],[2012.699,8.2],[2012.729,6.1],[2012.764,20.4],[2012.808,30.6],[2012.852,36.7],
[2012.904,44.8],[2012.935,48.9],[2012.956,38.7],[2012.978,48.9],[2013.009,53.0],[2013.035,48.9],[2013.065,40.8],[2013.087,38.7],
[2013.109,24.5],[2013.140,8.2],[2013.166,-8.2],[2013.196,-10.2],[2013.227,-8.2],[2013.253,-14.3],[2013.284,2.0],[2013.319,8.2],
[2013.358,24.5],[2013.393,32.6],[2013.436,44.8],[2013.480,55.0],[2013.524,65.2],[2013.567,73.4],[2013.602,79.5],[2013.633,77.4],
[2013.654,81.5],[2013.689,87.6],[2013.720,95.8],[2013.764,91.7],[2013.807,89.7],[2013.838,83.5],[2013.873,73.4],[2013.916,59.1],
[2013.960,46.9],[2014.003,38.7],[2014.038,40.8],[2014.069,44.8],[2014.099,53.0],[2014.134,65.2],[2014.178,71.3],[2014.222,72.5],
[2014.257,69.3],[2014.287,71.3],[2014.331,67.2],[2014.374,61.9],[2014.418,57.1],[2014.449,53.0],[2014.483,56.2],[2014.527,57.1],
[2014.571,53.8],[2014.606,48.9],[2014.636,40.8],[2014.667,46.9],[2014.702,53.0],[2014.745,60.3],[2014.789,61.1],[2014.824,53.0],
[2014.854,48.9],[2014.885,55.0],[2014.920,48.9],[2014.955,40.8],[2014.998,34.6],[2015.042,32.6],[2015.086,33.4],[2015.116,30.6],
[2015.147,24.5],[2015.182,14.3],[2015.216,10.2],[2015.247,6.1],[2015.277,10.2],[2015.312,18.3],[2015.356,26.5],[2015.391,23.6],
[2015.421,18.3],[2015.452,14.3],[2015.487,8.2],[2015.509,6.1],[2015.539,14.3],[2015.574,22.4],[2015.618,21.2],[2015.661,24.5],
[2015.705,28.5],[2015.749,34.6],[2015.784,42.8],[2015.814,32.6],[2015.845,22.4],[2015.880,12.2],[2015.923,6.1],[2015.967,4.1],
[2016.011,10.2],[2016.054,20.4],[2016.098,30.6],[2016.141,38.7],[2016.185,44.8],[2016.220,50.9],[2016.250,46.9],[2016.281,38.7],
[2016.316,40.8],[2016.351,48.9],[2016.381,55.0],[2016.412,53.0],[2016.447,61.1],[2016.469,66.0],[2016.499,61.1],[2016.534,48.9],
[2016.569,40.8],[2016.599,36.7],[2016.630,32.6],[2016.665,30.6],[2016.700,28.5],[2016.730,22.4],[2016.761,25.3],[2016.796,22.4],
[2016.831,26.5],[2016.861,29.3],[2016.892,28.5],[2016.927,30.6],[2016.949,44.8],[2016.970,53.8],[2017.014,56.2],[2017.058,57.9],
[2017.101,59.1],[2017.145,55.0],[2017.188,44.8],[2017.232,34.6],[2017.276,24.5],[2017.311,12.2],[2017.341,22.4],[2017.372,36.7],
[2017.407,53.0],[2017.450,64.4],[2017.485,67.2],[2017.516,83.5],[2017.547,79.5],[2017.573,75.4],[2017.603,81.5],[2017.634,73.4],
[2017.668,59.1],[2017.703,55.0],[2017.734,61.1],[2017.764,67.2],[2017.799,73.4],[2017.834,82.3],[2017.865,71.3],[2017.895,69.3],
[2017.930,61.1],[2017.965,57.1],[2017.996,64.4],[2018.026,66.0],[2018.061,55.0],[2018.096,36.7],[2018.127,22.4],[2018.157,16.3],
[2018.192,10.2],[2018.236,4.1],[2018.279,0.0],[2018.314,3.3],[2018.345,-4.1],[2018.375,-10.2],[2018.401,-12.2],[2018.432,-8.2],
[2018.462,-4.1],[2018.497,0.8],[2018.532,-6.1],[2018.563,-2.0],[2018.593,-10.2],[2018.628,-4.1],[2018.663,8.2],[2018.707,22.4],
[2018.750,32.6],[2018.781,36.7],[2018.812,33.4],[2018.846,32.6],[2018.881,41.6],[2018.912,36.7],[2018.942,30.6],[2018.977,20.4],
[2019.021,10.2],[2019.056,4.1],[2019.087,-8.2],[2019.117,-14.3],[2019.152,-10.2],[2019.187,0.0],[2019.218,20.4],[2019.248,40.8],
[2019.274,55.0],[2019.305,60.3],[2019.335,57.1],[2019.370,55.0],[2019.414,48.9],[2019.442,34.6],[2019.473,30.6],[2019.507,26.5],
[2019.551,32.6],[2019.586,36.7],[2019.616,30.6],[2019.660,24.5],[2019.690,19.6],[2019.725,20.4],[2019.769,18.3],[2019.813,20.4],
[2019.834,12.2],[2019.865,10.2],[2019.900,3.3],[2019.922,-4.1],[2019.943,-13.0],[2019.965,-4.1],[2019.987,6.1],[2020.031,8.2],
[2020.074,7.3],[2020.118,10.2],[2020.153,14.3],[2020.183,22.4],[2020.214,20.4],[2020.248,18.3],[2020.283,14.3],[2020.314,12.2],
[2020.344,10.2],[2020.379,8.2],[2020.414,9.0],[2020.445,6.1],[2020.475,7.3],[2020.501,4.9],[2020.545,10.2],[2020.588,16.3],
[2020.632,24.5],[2020.676,32.6],[2020.706,41.6],[2020.737,38.7],[2020.772,39.9],[2020.806,37.5],[2020.837,34.6],[2020.881,35.9],
[2020.924,32.6],[2020.955,30.6],[2020.990,34.6],[2021.024,36.7],[2021.055,38.7],[2021.077,46.9],[2021.112,57.1],[2021.142,69.3],
[2021.173,73.4],[2021.208,74.2],[2021.242,75.4],[2021.273,76.6],[2021.303,74.2],[2021.338,69.3],[2021.373,71.3],[2021.404,77.4],
[2021.434,82.3],[2021.460,73.4],[2021.491,65.2],[2021.521,75.4],[2021.548,82.3],[2021.565,75.4],[2021.600,73.4],[2021.622,75.4],
[2021.643,81.5],[2021.665,79.5],[2021.687,69.3],[2021.722,55.0],[2021.752,65.2],[2021.783,70.1],[2021.809,57.1],[2021.840,34.6],
[2021.870,44.8],[2021.896,50.9],[2021.927,48.9],[2021.949,55.0],[2021.970,53.0],[2021.992,57.1],[2022.014,48.9],[2022.036,46.9],
[2022.058,61.1],[2022.088,71.3],[2022.114,75.4],[2022.145,73.4],[2022.175,67.2],[2022.210,63.2],[2022.245,59.1],[2022.276,53.0],
[2022.306,48.9],[2022.332,32.6],[2022.363,12.2],[2022.385,16.3],[2022.419,19.6],[2022.450,24.5],[2022.480,26.5],[2022.515,32.6],
[2022.550,40.8],[2022.581,48.9],[2022.611,61.1],[2022.637,69.3],[2022.655,65.2],[2022.681,53.0],[2022.711,59.1],[2022.724,61.1],
[2022.742,42.8],[2022.768,48.9],[2022.799,55.0],[2022.821,53.0],[2022.842,50.9],[2022.864,48.9],[2022.886,46.9],[2022.908,38.7],
[2022.929,44.8],[2022.951,42.8],[2022.973,48.9],[2022.995,50.9],[2023.017,34.6],[2023.038,16.3],[2023.060,2.0],[2023.091,-8.2],
[2023.117,-13.0],[2023.147,-4.1],[2023.178,-2.0],[2023.204,-11.4],[2023.235,-27.7],[2023.256,-24.5],[2023.278,-27.7],[2023.300,-22.4],
[2023.322,-14.3],[2023.343,-20.4],[2023.365,-24.5],[2023.387,-32.6],[2023.409,-20.4],[2023.431,-8.2],[2023.452,4.1],[2023.474,12.2],
[2023.509,22.4],[2023.540,27.7],[2023.570,28.5],[2023.596,32.6],[2023.614,26.5],[2023.640,24.5],[2023.670,30.6],[2023.692,36.7],
[2023.714,39.9],[2023.736,28.5],[2023.758,20.4],[2023.779,8.2],[2023.801,0.0],[2023.823,-8.2],[2023.845,10.2],[2023.867,14.3],
[2023.888,4.1],[2023.910,-14.3],[2023.932,-8.2],[2023.954,-16.3],[2023.976,-8.2],[2023.997,-12.2],[2024.019,-4.1],[2024.041,4.1],
[2024.063,16.3],[2024.085,30.6],[2024.119,40.8],[2024.150,53.0],[2024.172,63.2],[2024.194,65.2],[2024.215,73.4],[2024.237,81.5],
[2024.259,89.7],[2024.281,91.7],[2024.303,90.5],[2024.324,83.5],[2024.346,69.3],[2024.368,57.1],[2024.390,44.8],[2024.411,32.6],
[2024.433,18.3],[2024.455,2.0],[2024.486,-8.2],[2024.512,-12.2],[2024.529,-14.3],[2024.555,-4.1],[2024.577,4.1],[2024.599,8.2],
[2024.616,0.0],[2024.643,12.2],[2024.664,36.7],[2024.686,41.6],[2024.704,48.9],[2024.730,59.1],[2024.760,73.4],[2024.791,89.7],
[2024.817,101.9],[2024.847,116.1],[2024.869,126.3],[2024.891,130.4],[2024.913,137.7],[2024.935,134.5],[2024.956,122.3],[2024.978,110.0],
[2025.000,95.8],[2025.022,97.8],[2025.044,91.7],[2025.065,93.7],[2025.087,91.7],[2025.109,110.0],[2025.131,95.8],[2025.153,73.4],
[2025.174,53.0],[2025.196,50.9],[2025.218,53.0],[2025.240,48.9],[2025.262,36.7],[2025.283,50.9],[2025.305,61.1],[2025.327,69.3],
[2025.357,81.5],[2025.384,91.7],[2025.414,103.9],[2025.436,118.2],[2025.458,130.4],[2025.480,132.4],[2025.501,126.3],[2025.523,114.1],
[2025.545,108.0],[2025.567,106.0],[2025.601,105.2],[2025.632,106.8],[2025.654,118.2],[2025.676,130.4],[2025.697,138.5],[2025.719,142.6],
[2025.741,143.4],[2025.763,138.5],[2025.785,124.3],[2025.807,106.0],[2025.828,83.5],[2025.850,63.2],[2025.872,46.9],[2025.894,38.7],
[2025.915,40.8],[2025.937,48.9],[2025.959,65.2],[2025.981,75.4],[2026.003,79.5],[2026.025,89.7],[2026.046,110.0],[2026.068,122.3],
[2026.090,128.4],[2026.112,120.2],[2026.133,112.1],[2026.155,117.6]
];

// table
var tableHeaders = [["Trader Class"],["Long"],["Change"],["Short"],["Change"],["Net"],["Change"],["COT","Index"],["Rank","13w"],["Rank","26w"],["Rank","52w"],["Rank","156w"]];
var traderClass = ["Producer/Merchant", "Managed Money", "Other Reportables", "Non-Reportable"];
var longPos     = [25407, 133932, 18569, 20445];
var longChange  = [-410, 7980, 1255, -251];
var shortPos    = [161301, 16331, 61200, 30115];
var shortChange = [988, 1512, 1671, -507];
var netPos      = [-135894, 117601, -42631, -9670];
var netChange   = [-1398, 6468, -416, 256];
var cotIndex    = [-72.8, 78.3, -53.4, -19.1];
var rank13      = [10.0, 87.3, 11.6, 7.7];
var rank26      = [16.7, 74.7, 9.1, 5.8];
var rank52      = [16.4, 75.3, 8.8, 3.4];
var rank156     = [8.9, 84.8, 14.8, 19.3];

// ---- layout ----
var W = 1626, H = 1078;
var plotL = 30, plotR = 1556;
var top1 = 40, bot1 = 452, top2 = 465, bot2 = 739;
var chartFont = "'DejaVu Sans', Verdana, sans-serif";
var tableFont = "Roboto, 'Noto Sans', sans-serif";
var tableSize = "24px";

var colorProducer = "#f0512e", colorManaged = "#2cb82c", colorPrice = "#7cc5f0", colorLast = "#c8143c";

var svg = d3.select("#chart");
svg.append("rect").attr("width", W).attr("height", H).attr("fill", "#f4f4f4");

var x = d3.scaleLinear().domain([2006.194, 2026.165]).range([plotL, plotR]);
var yP = d3.scaleLinear().domain([32.4, 138]).range([bot1, top1]);
var yN = d3.scaleLinear().domain([-164.1, 171]).range([bot2, top2]);

// title
svg.append("text")
  .attr("x", W / 2).attr("y", 28)
  .attr("text-anchor", "middle")
  .style("font-family", chartFont).style("font-weight", "bold").style("font-size", "23.8px")
  .attr("fill", "#111")
  .text(chartTitle);

// panel backgrounds
[[top1, bot1], [top2, bot2]].forEach(function(p) {
  svg.append("rect")
    .attr("x", plotL).attr("y", p[0])
    .attr("width", plotR - plotL).attr("height", p[1] - p[0])
    .attr("fill", "#fff");
});

var defs = svg.append("defs");
defs.append("clipPath").attr("id", "clipTop").append("rect")
  .attr("x", plotL).attr("y", top1).attr("width", plotR - plotL).attr("height", bot1 - top1);
defs.append("clipPath").attr("id", "clipBot").append("rect")
  .attr("x", plotL).attr("y", top2).attr("width", plotR - plotL).attr("height", bot2 - top2);

// grid lines
var grid = svg.append("g");
grid.selectAll(".pminor").data(priceMinor).enter().append("line")
  .attr("x1", plotL).attr("x2", plotR)
  .attr("y1", function(d) { return yP(d); }).attr("y2", function(d) { return yP(d); })
  .attr("stroke", "#ececec").attr("stroke-dasharray", "2,3");
grid.selectAll(".pmajor").data(priceTicks).enter().append("line")
  .attr("x1", plotL).attr("x2", plotR)
  .attr("y1", function(d) { return yP(d); }).attr("y2", function(d) { return yP(d); })
  .attr("stroke", "#e6e6e6");
grid.selectAll(".nminor").data(netMinor).enter().append("line")
  .attr("x1", plotL).attr("x2", plotR)
  .attr("y1", function(d) { return yN(d); }).attr("y2", function(d) { return yN(d); })
  .attr("stroke", "#ececec").attr("stroke-dasharray", "2,3");
grid.selectAll(".nmajor").data(netTicks.filter(function(d) { return d !== 0; })).enter().append("line")
  .attr("x1", plotL).attr("x2", plotR)
  .attr("y1", function(d) { return yN(d); }).attr("y2", function(d) { return yN(d); })
  .attr("stroke", "#e6e6e6");
[[top1, bot1], [top2, bot2]].forEach(function(p) {
  grid.append("g").selectAll("line").data(yearTicks).enter().append("line")
    .attr("x1", function(d) { return x(d); }).attr("x2", function(d) { return x(d); })
    .attr("y1", p[0]).attr("y2", p[1])
    .attr("stroke", "#d4d4d4").attr("stroke-dasharray", "8,7");
});

// price line
svg.append("path")
  .datum(price)
  .attr("clip-path", "url(#clipTop)")
  .attr("fill", "none")
  .attr("stroke", colorPrice)
  .attr("stroke-width", 2)
  .attr("stroke-linejoin", "round")
  .attr("d", d3.line().x(function(d) { return x(d[0]); }).y(function(d) { return yP(d[1]); }));

// last price marker
svg.append("line")
  .attr("x1", plotL).attr("x2", plotR)
  .attr("y1", yP(lastPrice)).attr("y2", yP(lastPrice))
  .attr("stroke", colorLast).attr("stroke-width", 2).attr("stroke-dasharray", "9,7.3");
svg.append("text")
  .attr("x", plotR + 2).attr("y", yP(lastPrice) + 5)
  .style("font-family", "'DejaVu Serif', serif").style("font-weight", "bold").style("font-size", "13.5px")
  .attr("fill", colorLast)
  .text(lastPrice.toFixed(2));

svg.append("text")
  .attr("x", 35).attr("y", 64)
  .style("font-family", chartFont).style("font-weight", "bold").style("font-size", "21.8px")
  .attr("fill", "#7b7b7b")
  .text(marketName);

// net positions areas
var area = d3.area()
  .x(function(d) { return x(d[0]); })
  .y0(yN(0))
  .y1(function(d) { return yN(d[1]); });
var line = d3.line()
  .x(function(d) { return x(d[0]); })
  .y(function(d) { return yN(d[1]); });

var net = svg.append("g").attr("clip-path", "url(#clipBot)");
net.append("path").datum(producerNet).attr("fill", colorProducer).attr("fill-opacity", 0.5).attr("d", area);
net.append("path").datum(managedNet).attr("fill", colorManaged).attr("fill-opacity", 0.5).attr("d", area);
net.append("line")
  .attr("x1", plotL).attr("x2", plotR).attr("y1", yN(0)).attr("y2", yN(0))
  .attr("stroke", "#8a8a8a").attr("stroke-width", 1.5);
net.append("path").datum(producerNet).attr("fill", "none").attr("stroke", colorProducer)
  .attr("stroke-width", 2).attr("stroke-linejoin", "round").attr("d", line);
net.append("path").datum(managedNet).attr("fill", "none").attr("stroke", colorManaged)
  .attr("stroke-width", 2).attr("stroke-linejoin", "round").attr("d", line);

svg.append("text")
  .attr("x", 35).attr("y", 482)
  .style("font-family", chartFont).style("font-weight", "bold").style("font-size", "14.8px")
  .attr("fill", "#808080")
  .text("Report date: " + reportDate);
svg.append("text")
  .attr("x", 35).attr("y", 731)
  .style("font-family", chartFont).style("font-weight", "bold").style("font-size", "22px")
  .attr("fill", "#c4c4c4")
  .text("Quant Reports");

// axes
function styleAxis(g, size) {
  g.select(".domain").remove();
  g.selectAll("text")
    .style("font-family", chartFont).style("font-size", size)
    .attr("fill", "#333");
}
svg.append("g")
  .attr("transform", "translate(" + plotR + ",0)")
  .call(d3.axisRight(yP).tickValues(priceTicks).tickSize(0).tickPadding(5))
  .call(styleAxis, "13.5px");
svg.append("g")
  .attr("transform", "translate(" + plotR + ",0)")
  .call(d3.axisRight(yN).tickValues(netTicks).tickSize(0).tickPadding(5)
    .tickFormat(function(d) { return d === 0 ? "0" : d3.format("d")(d) + "k"; }))
  .call(styleAxis, "13.5px");
svg.append("g")
  .attr("transform", "translate(0," + bot2 + ")")
  .call(d3.axisBottom(x).tickValues(yearTicks).tickFormat(d3.format("d")).tickSize(0).tickPadding(6))
  .call(styleAxis, "14px");

// axis titles
svg.append("text")
  .attr("transform", "translate(23," + ((top1 + bot1) / 2 + 4) + ") rotate(-90)")
  .attr("text-anchor", "middle")
  .style("font-family", chartFont).style("font-size", "17.5px")
  .attr("fill", "#222")
  .text("Price");
svg.append("text")
  .attr("transform", "translate(23," + ((top2 + bot2) / 2 - 3) + ") rotate(-90)")
  .attr("text-anchor", "middle")
  .style("font-family", chartFont).style("font-size", "17.5px")
  .attr("fill", "#222")
  .text("Net Positions");

// legend
var legend = svg.append("g");
var legendColors = [colorProducer, colorManaged];
var lx = 0;
seriesNames.forEach(function(name, i) {
  var item = legend.append("g").attr("transform", "translate(" + lx + ",0)");
  item.append("rect").attr("x", 0).attr("y", -4).attr("width", 29).attr("height", 8)
    .attr("fill", legendColors[i]).attr("fill-opacity", 0.55);
  item.append("line").attr("x1", 0).attr("x2", 29).attr("y1", -3).attr("y2", -3)
    .attr("stroke", legendColors[i]).attr("stroke-width", 2).attr("stroke-opacity", 0.8);
  var t = item.append("text").attr("x", 34).attr("y", 6.5)
    .style("font-family", chartFont).style("font-size", "18px")
    .attr("fill", "#222")
    .text(name);
  lx += 34 + t.node().getComputedTextLength() + 12;
});
legend.attr("transform", "translate(" + ((plotL + plotR) / 2 - (lx - 12) / 2) + ",781.5)");

// ---- table ----
var tableTop = 801, headH = 78, rowH = 49.75;
var colEdges = [0, 251, 385, 517, 650, 783, 916, 1049, 1166, 1281, 1396, 1511, 1626];
var red = "#e53935", green = "#4caf50";
var fmtInt = d3.formatLocale({decimal: ".", thousands: " ", grouping: [3], currency: ["", ""], minus: "-"}).format(",d");
var fmtDec = d3.formatLocale({decimal: ".", thousands: " ", grouping: [3], currency: ["", ""], minus: "-"}).format(".1f");

var rankColor = d3.scaleLinear().domain([0, 35, 74.7, 100])
  .range(["rgb(246,150,114)", "#ffffff", "#ffffff", "rgb(112,215,141)"]).clamp(true);
var cotColor = d3.scaleLinear().domain([-100, 0, 100])
  .range(["rgb(247,155,121)", "#ffffff", "rgb(158,227,176)"]).clamp(true);

var table = svg.append("g").style("font-family", tableFont);
table.append("rect").attr("x", 0).attr("y", tableTop).attr("width", W).attr("height", headH).attr("fill", "#000");

tableHeaders.forEach(function(lines, c) {
  var cx = c === 0 ? 15.5 : (colEdges[c] + colEdges[c + 1]) / 2;
  var anchor = c === 0 ? "start" : "middle";
  lines.forEach(function(s, k) {
    var by = lines.length === 1 ? 849 : (k === 0 ? 833 : 862.5);
    table.append("text").attr("x", cx).attr("y", by)
      .attr("text-anchor", anchor)
      .style("font-size", tableSize).attr("fill", "#fff")
      .text(s);
  });
});

var rankCols = [cotIndex, rank13, rank26, rank52, rank156];

traderClass.forEach(function(name, r) {
  var y0 = tableTop + headH + r * rowH;
  var base = y0 + rowH / 2 + 8.4;
  table.append("rect").attr("x", 0).attr("y", y0).attr("width", colEdges[7]).attr("height", rowH).attr("fill", "#fcf9f9");
  rankCols.forEach(function(col, k) {
    var c = 7 + k;
    table.append("rect").attr("x", colEdges[c]).attr("y", y0)
      .attr("width", colEdges[c + 1] - colEdges[c]).attr("height", rowH)
      .attr("fill", k === 0 ? cotColor(col[r]) : rankColor(col[r]));
    table.append("text").attr("x", colEdges[c + 1] - 26).attr("y", base)
      .attr("text-anchor", "end").style("font-size", tableSize).attr("fill", "#111")
      .text(fmtDec(col[r]));
  });

  table.append("text").attr("x", 15.5).attr("y", base)
    .style("font-size", tableSize).attr("fill", "#111").text(name);

  // plain numbers
  [[1, longPos[r], "#111"], [3, shortPos[r], "#111"], [5, netPos[r], netPos[r] < 0 ? red : green]].forEach(function(v) {
    table.append("text").attr("x", colEdges[v[0] + 1] - 23).attr("y", base)
      .attr("text-anchor", "end").style("font-size", tableSize).attr("fill", v[2])
      .text(fmtInt(v[1]));
  });

  // change columns with arrows
  [[2, longChange[r]], [4, shortChange[r]], [6, netChange[r]]].forEach(function(v) {
    var right = colEdges[v[0] + 1];
    var col = v[1] < 0 ? red : green;
    table.append("text").attr("x", right - 36).attr("y", base)
      .attr("text-anchor", "end").style("font-size", tableSize).attr("fill", col)
      .text(fmtInt(v[1]));
    var cy = y0 + rowH / 2, tw = 15.5, th = 15;
    var x1 = right - 10 - tw, x2 = right - 10;
    var pts = v[1] < 0
      ? [[x1, cy - th / 2], [x2, cy - th / 2], [(x1 + x2) / 2, cy + th / 2]]
      : [[x1, cy + th / 2], [x2, cy + th / 2], [(x1 + x2) / 2, cy - th / 2]];
    table.append("path").attr("d", d3.line()(pts) + "Z").attr("fill", col);
  });

  if (r > 0) {
    table.append("line").attr("x1", 0).attr("x2", colEdges[7]).attr("y1", y0).attr("y2", y0)
      .attr("stroke", "#cfcfcf").attr("stroke-dasharray", "3,2");
    table.append("line").attr("x1", colEdges[7]).attr("x2", W).attr("y1", y0).attr("y2", y0)
      .attr("stroke", "#ffffff").attr("stroke-opacity", 0.6);
  }
});

[1, 3, 5, 7].forEach(function(c) {
  table.append("line").attr("x1", colEdges[c]).attr("x2", colEdges[c])
    .attr("y1", tableTop + headH).attr("y2", H)
    .attr("stroke", "#000").attr("stroke-width", 2);
});
</script>
</body>
</html>
